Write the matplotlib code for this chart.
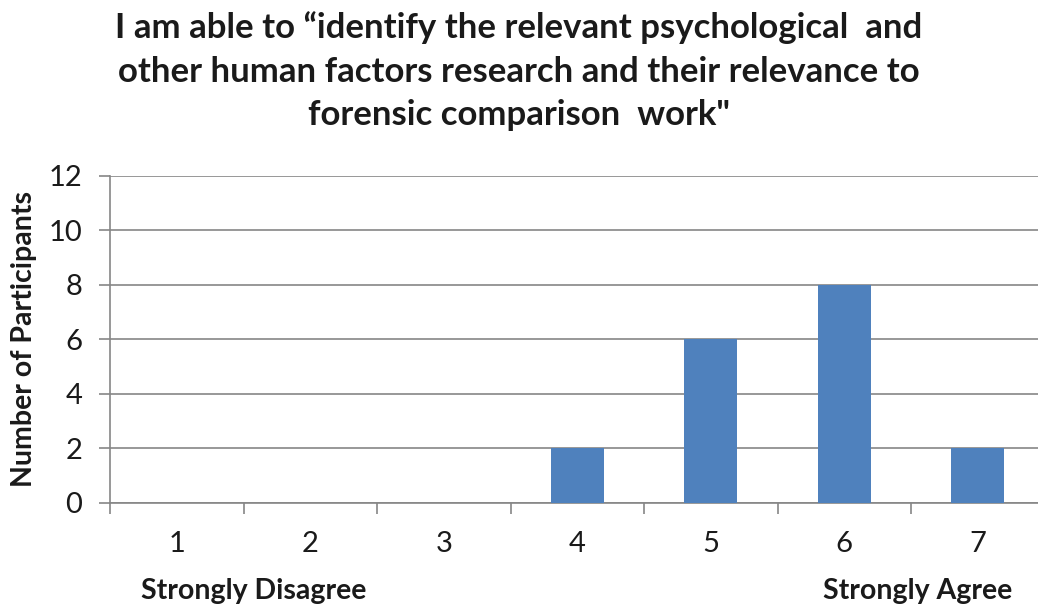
import matplotlib.pyplot as plt
import numpy as np

# survey responses on a 1-7 agreement scale
ratings = [1, 2, 3, 4, 5, 6, 7]
counts = [0, 0, 0, 2, 6, 8, 2]
yticks = [0, 2, 4, 6, 8, 10, 12]

title = ('I am able to \u201cidentify the relevant psychological  and\n'
         'other human factors research and their relevance to\n'
         'forensic comparison  work"')

plt.rcParams['font.family'] = ['Lato', 'DejaVu Sans']

fig = plt.figure(figsize=(10.38, 6.06), dpi=100)
# the plot area runs a little past the right edge of the figure
ax = fig.add_axes([0.106, 0.170, 0.9003, 0.5396])

bar_color = '#4F81BD'
grid_color = '#868686'
text_color = '#1a1a1a'

x = np.arange(len(ratings))
ax.bar(x, counts, width=0.4, color=bar_color, zorder=3)

ax.set_xlim(-0.5, len(ratings) - 0.5)
ax.set_ylim(0, 12)
ax.set_yticks(yticks)
ax.set_yticklabels([str(v) for v in yticks], fontsize=21, color=text_color)
ax.yaxis.grid(True, color=grid_color, linewidth=1.2, zorder=0)

# category ticks sit between the bars
ax.set_xticks(np.arange(len(ratings) + 1) - 0.5)
ax.set_xticklabels([])
ax.set_xticks(x, minor=True)
ax.set_xticklabels([str(r) for r in ratings], minor=True, fontsize=21, color=text_color)
ax.tick_params(axis='x', which='minor', length=0, pad=20)
ax.tick_params(axis='x', which='major', length=8, color=grid_color, width=1.2)
ax.tick_params(axis='y', length=8, color=grid_color, width=1.2, pad=12)

for side in ['top', 'right']:
    ax.spines[side].set_visible(False)
for side in ['left', 'bottom']:
    ax.spines[side].set_color(grid_color)
    ax.spines[side].set_linewidth(1.2)

ax.set_ylabel('Number of Participants', fontsize=20.5, fontweight='bold', labelpad=8,
              color=text_color)

fig.text(0.5, 0.982, title, ha='center', va='top', fontsize=25, fontweight='bold',
         linespacing=1.45, color=text_color)

fig.text(254 / 1038, 1 - 591 / 606, 'Strongly Disagree', ha='center', va='center',
         fontsize=20.5, fontweight='bold', color=text_color)
fig.text(918 / 1038, 1 - 591 / 606, 'Strongly Agree', ha='center', va='center',
         fontsize=20.5, fontweight='bold', color=text_color)

fig.savefig('out.png', dpi=100)
